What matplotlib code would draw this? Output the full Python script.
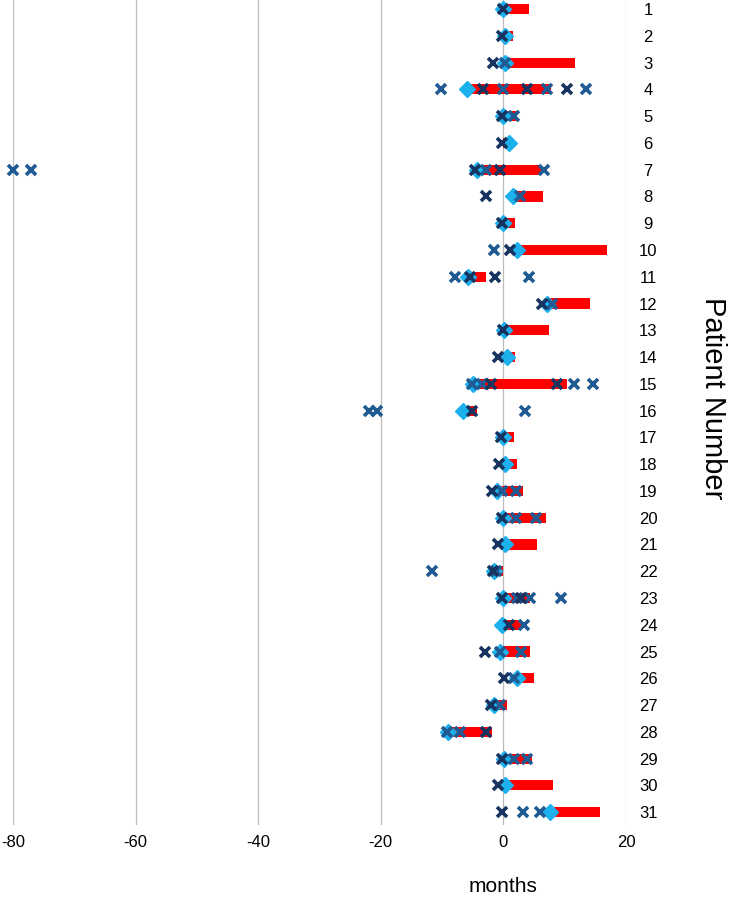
import numpy as np
import matplotlib.pyplot as plt

plt.rcParams['font.family'] = ['Liberation Sans Narrow', 'Liberation Sans', 'DejaVu Sans']

# patient numbers
patients = list(range(1, 32))
# red bars: start and end (months)
bar_start = [0, 0, 0, -5.4, 0, 0, -4.3, 1.6, 0, 2.2, -5.7, 7.1, 0, 0.6, -5.0, -5.7,
             0, 0.2, -1.1, 0, 0.2, -1.5, 0, 0, -0.5, 2.3, -1.5, -9.1, 0.1, 0.2, 7.6]
bar_end = [4.2, 1.6, 11.6, 7.7, 2.2, 0.9, 6.1, 6.5, 1.9, 16.9, -2.8, 14.2, 7.4, 1.9, 10.4, -4.3,
           1.8, 2.2, 3.2, 7.0, 5.5, 0.0, 4.4, 2.8, 4.3, 5.0, 0.6, -1.85, 4.6, 8.1, 15.7]
# light blue diamonds
diamond = [0, 0.3, 0.2, -5.9, 0, 0.9, -4.3, 1.6, 0, 2.2, -5.7, 7.1, 0.1, 0.6, -5.0, -6.6,
           0, 0.2, -1.1, 0, 0.2, -1.5, 0, -0.2, -0.6, 2.3, -1.5, -9.1, 0.1, 0.2, 7.6]
# dark navy crosses, one list per patient
x_dark = [[0], [-0.3], [-1.7], [-3.4, 3.8, 10.3], [-0.3], [-0.2], [-0.6, -4.6], [-2.9], [-0.3],
          [1.0], [-1.3, -5.5], [6.3], [-0.1], [-0.9], [-2.0, 8.8], [-5.1], [-0.4], [-0.65],
          [-1.85], [-0.3], [-0.9], [-1.7], [-0.3, 2.9], [0.9], [-3.0], [0.1], [-2.0], [-2.9],
          [-0.2], [-0.9], [-0.2]]
# mid blue crosses
x_mid = [[], [], [0.2], [-10.2, 0, 7.1, 13.4], [1.8], [], [-80, -77.1, -2.8, 6.7], [2.7], [],
         [-1.6], [-7.9, 4.2], [7.9], [], [], [-5.1, -3.5, 11.5, 14.6], [-21.9, -20.6, 3.6],
         [], [], [-0.3, 2.1], [2.1, 5.3], [], [-11.6, -1.2], [2.2, 4.3, 9.4], [3.3],
         [-0.5, 2.9], [1.7], [-0.5], [-9.2, -7.1], [1.8, 3.9], [], [3.2, 5.9]]

xticks = [-80, -60, -40, -20, 0, 20]

fig = plt.figure(figsize=(7.31, 9.07), dpi=100)
ax = fig.add_axes([13/731, 82/907, 613/731, 825/907])

start = np.array(bar_start)
end = np.array(bar_end)
ax.barh(patients, end - start, left=start, height=0.38, color='#ff0000', zorder=2)

ax.plot(diamond, patients, linestyle='none', marker='D', markersize=8.5,
        color='#1cb0ec', zorder=3, clip_on=False)

mx, my = [], []
for p, vals in zip(patients, x_mid):
    for v in vals:
        mx.append(v)
        my.append(p)
ax.plot(mx, my, linestyle='none', marker='x', markersize=6.5, mew=2.6,
        color='#1f5a92', zorder=4, clip_on=False)

dx, dy = [], []
for p, vals in zip(patients, x_dark):
    for v in vals:
        dx.append(v)
        dy.append(p)
ax.plot(dx, dy, linestyle='none', marker='x', markersize=6.5, mew=2.6,
        color='#17335f', zorder=5, clip_on=False)

ax.set_xlim(-80, 20)
ax.set_ylim(31.48, 0.66)
ax.set_xticks(xticks)
ax.set_xticklabels([str(t) for t in xticks], fontsize=12)
for t in xticks:
    ax.axvline(t, color='#bcbcbc', linewidth=0.9, zorder=1)

ax.set_yticks(patients)
ax.set_yticklabels([str(p) for p in patients], fontsize=12, ha='center')
ax.yaxis.tick_right()
ax.tick_params(axis='both', length=0)
ax.tick_params(axis='y', pad=16)
ax.tick_params(axis='x', pad=7)

for s in ax.spines.values():
    s.set_visible(False)

fig.text(713/731, 1 - 398/907, 'Patient Number', rotation=-90, fontsize=21,
         ha='center', va='center')
fig.text(503/731, 1 - 886/907, 'months', fontsize=15, ha='center', va='center')

plt.savefig('out.png', dpi=100)
